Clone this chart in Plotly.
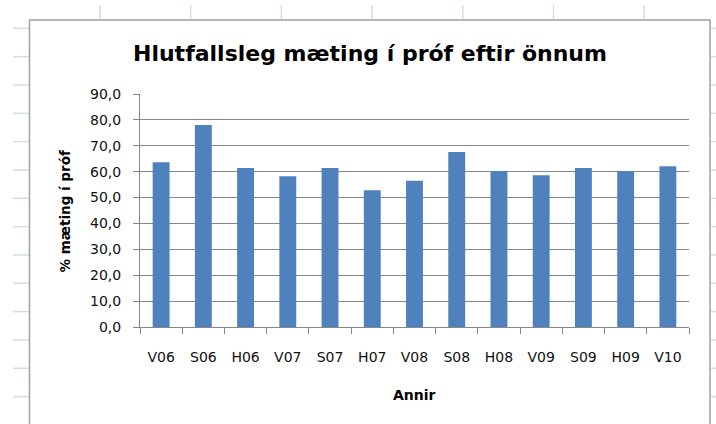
import plotly.graph_objects as go

# ---- data ----
terms = ["V06", "S06", "H06", "V07", "S07", "H07", "V08", "S08", "H08", "V09", "S09", "H09", "V10"]
attendance_pct = [63.6, 78.0, 61.4, 58.2, 61.4, 52.8, 56.5, 67.6, 60.3, 58.6, 61.4, 60.3, 62.1]
y_ticks = [0, 10, 20, 30, 40, 50, 60, 70, 80, 90]

title_text = "Hlutfallsleg mæting í próf eftir önnum"
x_title = "Annir"
y_title = "% mæting í próf"

# ---- layout geometry (pixels) ----
W, H = 716, 424
L, R, T, B = 140, 689, 94, 327
pw, ph = R - L, B - T

def px(x):
    return (x - L) / pw

def py(y):
    return (B - y) / ph

FONT = "DejaVu Sans"
GRID = "#878787"
SHEET = "#D5DCEA"
BLUE = "#4F81BD"

fig = go.Figure()
fig.add_trace(go.Bar(
    x=terms, y=attendance_pct,
    marker=dict(color=BLUE, line=dict(width=0)),
    hoverinfo="x+y",
))

shapes = []
# spreadsheet grid fragments visible outside the chart object
col_x = [100, 190.7, 281.4, 372.1, 462.8, 553.5, 644.2]
for cx in col_x:
    shapes.append(dict(type="line", xref="paper", yref="paper",
                       x0=px(cx), x1=px(cx), y0=py(5), y1=py(19.5),
                       line=dict(color=SHEET, width=1.5), layer="below"))
for k in range(1, 15):
    ry = 28.33 * k
    shapes.append(dict(type="line", xref="paper", yref="paper",
                       x0=px(13), x1=px(29), y0=py(ry), y1=py(ry),
                       line=dict(color=SHEET, width=1.5), layer="below"))
    shapes.append(dict(type="line", xref="paper", yref="paper",
                       x0=px(711), x1=px(716), y0=py(ry), y1=py(ry),
                       line=dict(color=SHEET, width=1.5), layer="below"))
# chart object border
shapes.append(dict(type="rect", xref="paper", yref="paper",
                   x0=px(29.5), x1=px(710), y0=py(20), y1=py(440),
                   line=dict(color="#A0A0A0", width=1.5), fillcolor="rgba(0,0,0,0)",
                   layer="below"))

annotations = [
    dict(text=title_text, xref="paper", yref="paper", x=px(370), y=py(53),
         xanchor="center", yanchor="middle", showarrow=False,
         font=dict(family=FONT, size=22, color="#000000", weight="bold")),
    dict(text=x_title, xref="paper", yref="paper", x=px(414), y=py(395),
         xanchor="center", yanchor="middle", showarrow=False,
         font=dict(family=FONT, size=14, color="#000000", weight="bold")),
    dict(text=y_title, xref="paper", yref="paper", x=px(64), y=py(211.5),
         xanchor="center", yanchor="middle", showarrow=False, textangle=-90,
         font=dict(family=FONT, size=13.5, color="#000000", weight="bold")),
]

fig.update_layout(
    width=W, height=H,
    margin=dict(l=L, r=W - R, t=T, b=H - B),
    paper_bgcolor="white", plot_bgcolor="white",
    separators=",.",
    bargap=0.6,
    showlegend=False,
    shapes=shapes,
    annotations=annotations,
    font=dict(family=FONT, size=14, color="#1a1a1a"),
)
fig.update_xaxes(
    type="category",
    showline=True, linecolor=GRID, linewidth=1,
    ticks="outside", ticklen=6, tickcolor=GRID, tickwidth=1,
    tickson="boundaries",
    showgrid=False,
    ticklabelstandoff=17,
    tickfont=dict(family=FONT, size=14, color="#111111"),
)
fig.update_yaxes(
    range=[0, 90], tickvals=y_ticks, tickformat=".1f",
    showline=True, linecolor=GRID, linewidth=1,
    ticks="outside", ticklen=6, tickcolor=GRID, tickwidth=1,
    showgrid=True, gridcolor=GRID, gridwidth=1,
    zeroline=False,
    ticklabelstandoff=9,
    tickfont=dict(family=FONT, size=14, color="#111111"),
)

fig.write_html(
    "out.html",
    config={"displayModeBar": False},
    post_script="document.body.style.margin='0';document.body.style.overflow='hidden';",
)
